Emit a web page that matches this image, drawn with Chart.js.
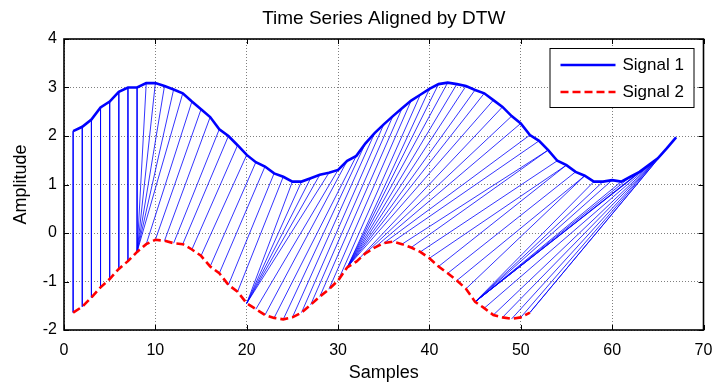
<!DOCTYPE html>
<html>
<head>
<meta charset="utf-8">
<title>Time Series Aligned by DTW</title>
<script src="https://cdn.jsdelivr.net/npm/chart.js@4.4.1/dist/chart.umd.min.js"></script>
<style>
    html, body { margin: 0; padding: 0; background: #fff; }
    #wrap { width: 713px; height: 389px; }
</style>
</head>
<body>
<div id="wrap"><canvas id="dtwChart"></canvas></div>
<script>
// samples 1..67 and 1..51
let signal1 = [2.10, 2.19, 2.34, 2.59, 2.71, 2.91, 3.00, 3.00, 3.09, 3.09,
    3.03, 2.96, 2.88, 2.71, 2.55, 2.39, 2.14, 2.00, 1.81, 1.61,
    1.46, 1.37, 1.23, 1.16, 1.06, 1.06, 1.13, 1.20, 1.24, 1.30,
    1.49, 1.59, 1.85, 2.06, 2.24, 2.41, 2.57, 2.73, 2.85, 2.97,
    3.07, 3.10, 3.07, 3.03, 2.95, 2.88, 2.74, 2.60, 2.41, 2.26,
    2.02, 1.90, 1.71, 1.49, 1.40, 1.26, 1.18, 1.06, 1.06, 1.09,
    1.06, 1.16, 1.26, 1.40, 1.54, 1.75, 1.97];
let signal2 = [-1.64, -1.52, -1.33, -1.12, -0.95, -0.74, -0.58, -0.39, -0.23, -0.14,
    -0.16, -0.21, -0.23, -0.34, -0.47, -0.69, -0.83, -1.07, -1.21, -1.45,
    -1.57, -1.69, -1.75, -1.78, -1.74, -1.64, -1.48, -1.31, -1.16, -0.98,
    -0.71, -0.59, -0.42, -0.30, -0.21, -0.18, -0.23, -0.30, -0.39, -0.52,
    -0.69, -0.83, -0.98, -1.15, -1.42, -1.55, -1.69, -1.74, -1.77, -1.74,
    -1.64];

// warping path, index into signal1 / signal2
let pathI = [1, 2, 3, 4, 5, 6, 7, 8, 9, 10, 11, 12, 13, 14, 15, 16, 17, 18, 19, 20,
    21, 22, 23, 24, 25, 26, 27, 28, 29, 30, 31, 32, 33, 34, 35, 36, 37, 38, 39, 40,
    41, 42, 43, 44, 45, 46, 47, 48, 49, 50, 51, 52, 53, 53, 54, 55, 55, 56, 57, 57,
    58, 59, 60, 61, 62, 63, 64, 65, 65, 65, 65, 65, 65, 66, 67];
let pathJ = [1, 2, 3, 4, 5, 6, 7, 8, 8, 8, 8, 8, 8, 9, 10, 11, 12, 13, 14, 15,
    16, 17, 18, 19, 20, 20, 20, 20, 20, 21, 22, 23, 24, 25, 26, 27, 28, 29, 30, 31,
    31, 31, 31, 31, 31, 31, 31, 32, 33, 34, 35, 36, 37, 38, 39, 40, 41, 42, 43, 44,
    45, 45, 45, 45, 45, 45, 45, 45, 46, 47, 48, 49, 50, 51, 51];

let xTicks = [0, 10, 20, 30, 40, 50, 60, 70];
let yTicks = [-2, -1, 0, 1, 2, 3, 4];
let seriesNames = ['Signal 1', 'Signal 2'];
let chartTitle = 'Time Series Aligned by DTW';

const FONT = "'Liberation Sans', Arial, Helvetica, sans-serif";

let s1Points = signal1.map((v, k) => ({ x: k + 1, y: v }));
let s2Points = signal2.map((v, k) => ({ x: k + 1, y: v }));

// one dataset, segments split by null points
let warpPoints = [];
pathI.forEach((i, k) => {
    let j = pathJ[k];
    warpPoints.push({ x: i, y: signal1[i - 1] });
    warpPoints.push({ x: j, y: signal2[j - 1] });
    warpPoints.push({ x: j, y: null });
});

// box, inward ticks, title and legend like the matlab figure
const framePlugin = {
    id: 'frame',
    afterDatasetsDraw(chart) {
        let ctx = chart.ctx;
        let a = chart.chartArea;
        let xs = chart.scales.x, ys = chart.scales.y;
        ctx.save();
        ctx.strokeStyle = '#000';
        ctx.lineWidth = 1;
        ctx.beginPath();
        xTicks.forEach(t => {
            let px = Math.round(xs.getPixelForValue(t)) + 0.5;
            ctx.moveTo(px, a.bottom); ctx.lineTo(px, a.bottom - 5);
            ctx.moveTo(px, a.top); ctx.lineTo(px, a.top + 5);
        });
        yTicks.forEach(t => {
            let py = Math.round(ys.getPixelForValue(t)) + 0.5;
            ctx.moveTo(a.left, py); ctx.lineTo(a.left + 5, py);
            ctx.moveTo(a.right, py); ctx.lineTo(a.right - 5, py);
        });
        ctx.stroke();
        ctx.lineWidth = 1.6;
        ctx.strokeRect(a.left, a.top, a.right - a.left, a.bottom - a.top);

        // title centred over the axes box
        ctx.fillStyle = '#000';
        ctx.font = '19px ' + FONT;
        ctx.textAlign = 'center';
        ctx.textBaseline = 'middle';
        ctx.fillText(chartTitle, (a.left + a.right) / 2, 19);

        // legend
        let bx = a.right - 154, by = 48, bw = 144, bh = 59;
        ctx.fillStyle = '#fff';
        ctx.fillRect(bx, by, bw, bh);
        ctx.lineWidth = 1;
        ctx.strokeRect(bx + 0.5, by + 0.5, bw, bh);
        ctx.font = '17px ' + FONT;
        ctx.textAlign = 'left';
        seriesNames.forEach((name, k) => {
            let ds = chart.data.datasets[k];
            let ly = by + 17 + k * 27;
            ctx.strokeStyle = ds.borderColor;
            ctx.lineWidth = ds.borderWidth;
            ctx.setLineDash(ds.borderDash || []);
            ctx.beginPath();
            ctx.moveTo(bx + 11, ly);
            ctx.lineTo(bx + 66, ly);
            ctx.stroke();
            ctx.setLineDash([]);
            ctx.fillStyle = '#000';
            ctx.fillText(name, bx + 73, ly);
        });
        ctx.restore();
    }
};

let ctx = document.getElementById('dtwChart').getContext('2d');
let chart = new Chart(ctx, {
    type: 'scatter',
    data: {
        datasets: [{
            label: seriesNames[0],
            data: s1Points,
            showLine: true,
            borderColor: '#0000ff',
            borderWidth: 2.6,
            pointRadius: 0,
            tension: 0
        }, {
            label: seriesNames[1],
            data: s2Points,
            showLine: true,
            borderColor: '#ff0000',
            borderWidth: 2.6,
            borderDash: [8, 4],
            pointRadius: 0,
            tension: 0
        }, {
            label: 'warp',
            data: warpPoints,
            showLine: true,
            spanGaps: false,
            borderColor: '#0000ff',
            borderWidth: 0.8,
            pointRadius: 0,
            tension: 0
        }]
    },
    options: {
        responsive: true,
        maintainAspectRatio: false,
        animation: false,
        devicePixelRatio: 1,
        layout: { padding: { left: 0, right: 9.5, top: 39, bottom: 0 } },
        plugins: {
            legend: { display: false },
            tooltip: { enabled: false },
            title: { display: false }
        },
        scales: {
            x: {
                type: 'linear',
                min: 0,
                max: 70,
                afterFit: s => {
                    s.height = 59;
                    s.paddingLeft = 0;
                    s.paddingRight = 0;
                },
                afterBuildTicks: s => { s.ticks = xTicks.map(v => ({ value: v })); },
                ticks: { color: '#000', font: { family: FONT, size: 16 }, padding: 11, maxRotation: 0 },
                grid: { color: 'rgba(0,0,0,0.5)', lineWidth: 1, drawTicks: false },
                border: { display: false, dash: [1, 2] },
                title: { display: true, text: 'Samples', color: '#000', font: { family: FONT, size: 18 }, padding: { bottom: 5 } }
            },
            y: {
                type: 'linear',
                min: -2,
                max: 4,
                afterFit: s => {
                    s.width = 64;
                    s.paddingTop = 0;
                    s.paddingBottom = 0;
                },
                afterBuildTicks: s => { s.ticks = yTicks.map(v => ({ value: v })); },
                ticks: { color: '#000', font: { family: FONT, size: 16 }, padding: 7 },
                grid: { color: 'rgba(0,0,0,0.5)', lineWidth: 1, drawTicks: false },
                border: { display: false, dash: [1, 2] },
                title: { display: true, text: 'Amplitude', color: '#000', font: { family: FONT, size: 18 }, padding: { top: 10 } }
            }
        }
    },
    plugins: [framePlugin]
});
</script>
</body>
</html>
